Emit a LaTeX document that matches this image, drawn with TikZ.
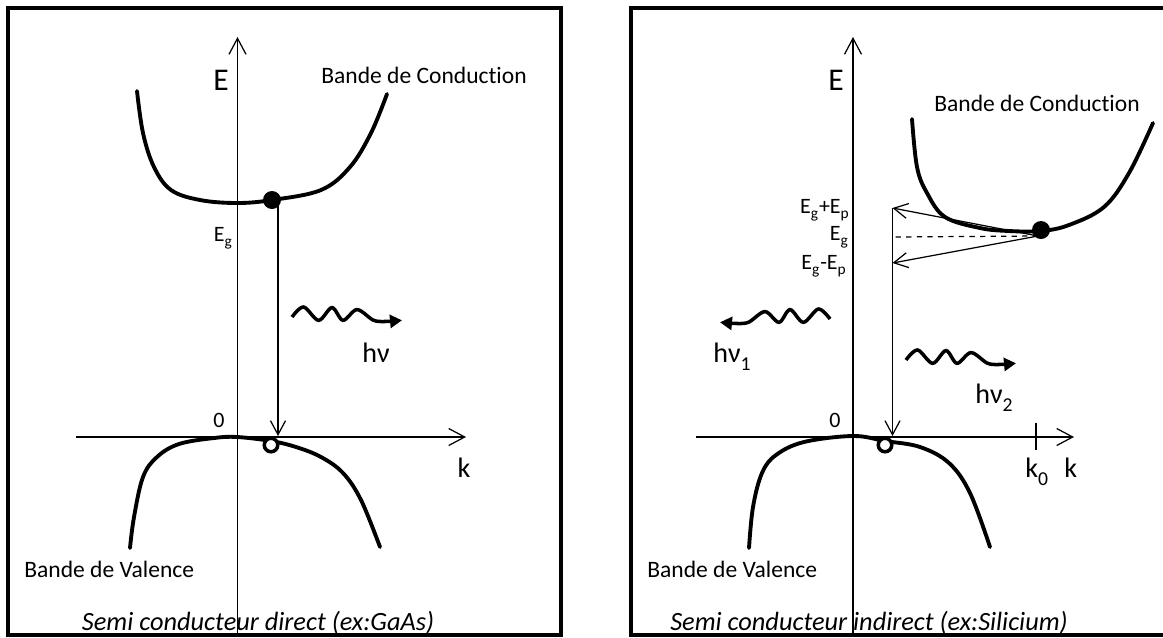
\documentclass[tikz,border=0pt]{standalone}
\usepackage{fontspec}
\setmainfont{Carlito}[Ligatures=NoCommon]
\usetikzlibrary{arrows.meta,positioning}
\newcommand{\lsub}[1]{\textsubscript{\raisebox{-0.18em}{#1}}}

\begin{document}
\begin{tikzpicture}[
  x=0.02cm, y=-0.02cm,
  frame/.style={draw, line width=2.3pt},
  axis/.style={-{Straight Barb[length=3.2mm,width=3.4mm]}, line width=0.7pt},
  arr/.style={-{Straight Barb[length=2.8mm,width=3mm]}, line width=0.7pt},
  band/.style={line width=2.2pt, line cap=round},
  wave/.style={line width=2pt, -{Triangle[length=2.4mm,width=2.6mm]}},
  elec/.style={circle, fill=black, inner sep=0pt, minimum size=3.6mm},
  hole/.style={circle, draw, fill=white, line width=2pt, inner sep=0pt, minimum size=2.7mm},
  lbl/.style={font=\fontsize{13.4}{16}\selectfont, inner sep=0pt},
  sml/.style={font=\fontsize{12.5}{15}\selectfont, inner sep=0pt},
  axlbl/.style={font=\fontsize{16}{19}\selectfont, inner sep=0pt},
  elbl/.style={font=\fontsize{18}{21}\selectfont, inner sep=0pt},
  captxt/.style={font=\fontsize{15}{18}\selectfont\itshape, inner sep=0pt},
  photon/.pic={\draw[wave] plot[smooth, tension=0.55] coordinates {(0,0) (11.6,-10) (26.6,3.3) (40,-9.4) (51,3.3) (65,-7.4) (81,3) (92,4.5) (110,3.3)};},
]
\useasboundingbox (0,0) rectangle (1163,637);

% Direct
\draw[frame] (8,8) rectangle (561,635);
\coordinate (Ebot1) at (237.5,635);
\coordinate (Etop1) at (237.5,37);
\coordinate (kbeg1) at (76,437);
\coordinate (kend1) at (466,437);
\draw[axis] (Ebot1) -- (Etop1);
\draw[axis] (kbeg1) -- (kend1);
\draw[band] plot[smooth, tension=0.6] coordinates {(137,91) (143,133) (154,167) (171,190) (200,200) (237,203) (272,200) (321,190) (350,167) (371,133) (387,94)};
\draw[band] plot[smooth, tension=0.6] coordinates {(130,548) (134,517) (143,477) (157,457) (179,444) (214,438) (237,437) (271,441) (296,447) (321,457) (343,473) (361,500) (380,547)};
\node[elec] (cb1) at (272,200) {};
\coordinate (from1) at (278,206);
\coordinate (to1) at (278,436);
\draw[arr] (from1) -- (to1);
\node[hole] (vb1) at (271,445) {};
\pic at (292,317) {photon};

\node[elbl, anchor=base] (E1) at (221,90) {E};
\node[lbl, anchor=base west] (cond1) at (321,83) {Bande de Conduction};
\node[sml, anchor=base east] (eg1) at (233,241) {E\lsub{g}};
\node[sml, anchor=base] (zero1) at (219,427) {0};
\node[axlbl, anchor=base] (k1) at (464,477) {k};
\node[axlbl, anchor=base west] (hv1) at (362,362) {hν};
\node[lbl, anchor=base west] (val1) at (24,577) {Bande de Valence};
\node[captxt, anchor=base] (cap1) at (258,630) {Semi conducteur direct (ex:GaAs)};

% Indirect
\draw[frame] (1163,8) -| (631,635) -- (1163,635);
\coordinate (Ebot2) at (853,635);
\coordinate (Etop2) at (853,37);
\coordinate (kbeg2) at (696,437);
\coordinate (kend2) at (1074,437);
\draw[axis] (Ebot2) -- (Etop2);
\draw[axis] (kbeg2) -- (kend2);
\coordinate (k0top) at (1036,423);
\coordinate (k0bot) at (1036,450);
\draw[line width=1pt] (k0top) -- (k0bot);
\draw[band] plot[smooth, tension=0.6] coordinates {(912,119) (917,167) (927,193) (945,217) (980,228) (1009,231) (1041,231) (1069,225) (1104,207) (1129,173) (1153,123)};
\draw[band] plot[smooth, tension=0.6] coordinates {(749,548) (753,507) (762,473) (776,455) (804,442) (853,436) (885,441) (920,447) (949,463) (970,493) (990,547)};
\coordinate (src) at (1038,236);
\coordinate (egp) at (892.5,208);
\coordinate (eg) at (892.5,237);
\coordinate (egm) at (892.5,263);
\coordinate (to2) at (892.5,436);
\draw[arr] (src) -- (egp);
\draw[arr] (src) -- (egm);
\draw[dashed, line width=0.7pt] (src) -- (eg);
\draw[arr] (egp) -- (to2);
\node[elec] (cb2) at (1041,230) {};
\node[hole] (vb2) at (885,445) {};
\pic[xscale=-1] at (830,319) {photon};
\pic at (906,360) {photon};

\node[elbl, anchor=base] (E2) at (836,90) {E};
\node[lbl, anchor=base west] (cond2) at (934,111) {Bande de Conduction};
\node[sml, anchor=base east] (lplus) at (850,213) {E\lsub{g}+E\lsub{p}};
\node[sml, anchor=base east] (lmid) at (849,240) {E\lsub{g}};
\node[sml, anchor=base east] (lminus) at (847,269) {E\lsub{g}-E\lsub{p}};
\node[sml, anchor=base] (zero2) at (835,427) {0};
\node[axlbl, anchor=base west] (k0) at (1025,477) {k\lsub{0}};
\node[axlbl, anchor=base west] (k2) at (1064,477) {k};
\node[axlbl, anchor=base west] (hvA) at (713,362) {hν\lsub{1}};
\node[axlbl, anchor=base west] (hvB) at (975,403) {hν\lsub{2}};
\node[lbl, anchor=base west] (val2) at (647,577) {Bande de Valence};
\node[captxt, anchor=base] (cap2) at (869,630) {Semi conducteur indirect (ex:Silicium)};
\end{tikzpicture}
\end{document}
